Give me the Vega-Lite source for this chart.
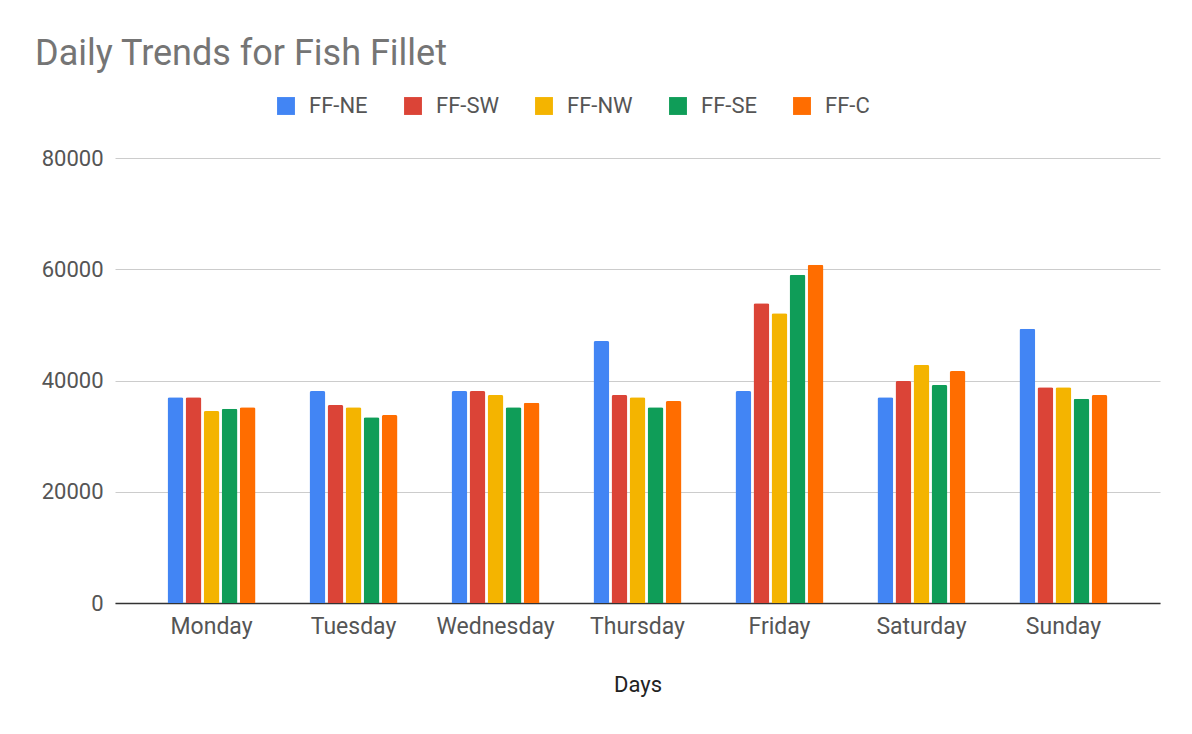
{
  "$schema": "https://vega.github.io/schema/vega-lite/v6.json",
  "width": 1045,
  "height": 445,
  "autosize": {"type": "none"},
  "padding": {"left": 115, "top": 158, "right": 32, "bottom": 131},
  "background": "white",
  "title": {
    "text": "Daily Trends for Fish Fillet",
    "anchor": "start",
    "frame": "group",
    "dx": -80,
    "offset": 22,
    "fontSize": 36,
    "font": "Roboto",
    "fontWeight": "normal",
    "color": "#757575"
  },
  "config": {
    "view": {"stroke": null},
    "font": "Roboto"
  },
  "data": {
    "values": [
      {"day": "Monday", "region": "FF-NE", "value": 37000},
      {"day": "Monday", "region": "FF-SW", "value": 37000},
      {"day": "Monday", "region": "FF-NW", "value": 34500},
      {"day": "Monday", "region": "FF-SE", "value": 34900},
      {"day": "Monday", "region": "FF-C", "value": 35200},
      {"day": "Tuesday", "region": "FF-NE", "value": 38100},
      {"day": "Tuesday", "region": "FF-SW", "value": 35600},
      {"day": "Tuesday", "region": "FF-NW", "value": 35200},
      {"day": "Tuesday", "region": "FF-SE", "value": 33400},
      {"day": "Tuesday", "region": "FF-C", "value": 33800},
      {"day": "Wednesday", "region": "FF-NE", "value": 38100},
      {"day": "Wednesday", "region": "FF-SW", "value": 38100},
      {"day": "Wednesday", "region": "FF-NW", "value": 37400},
      {"day": "Wednesday", "region": "FF-SE", "value": 35200},
      {"day": "Wednesday", "region": "FF-C", "value": 36000},
      {"day": "Thursday", "region": "FF-NE", "value": 47100},
      {"day": "Thursday", "region": "FF-SW", "value": 37400},
      {"day": "Thursday", "region": "FF-NW", "value": 37000},
      {"day": "Thursday", "region": "FF-SE", "value": 35200},
      {"day": "Thursday", "region": "FF-C", "value": 36300},
      {"day": "Friday", "region": "FF-NE", "value": 38100},
      {"day": "Friday", "region": "FF-SW", "value": 53900},
      {"day": "Friday", "region": "FF-NW", "value": 52100},
      {"day": "Friday", "region": "FF-SE", "value": 59000},
      {"day": "Friday", "region": "FF-C", "value": 60800},
      {"day": "Saturday", "region": "FF-NE", "value": 37000},
      {"day": "Saturday", "region": "FF-SW", "value": 39900},
      {"day": "Saturday", "region": "FF-NW", "value": 42800},
      {"day": "Saturday", "region": "FF-SE", "value": 39200},
      {"day": "Saturday", "region": "FF-C", "value": 41700},
      {"day": "Sunday", "region": "FF-NE", "value": 49300},
      {"day": "Sunday", "region": "FF-SW", "value": 38800},
      {"day": "Sunday", "region": "FF-NW", "value": 38800},
      {"day": "Sunday", "region": "FF-SE", "value": 36700},
      {"day": "Sunday", "region": "FF-C", "value": 37400}
    ]
  },
  "mark": {"type": "bar", "cornerRadiusTopLeft": 2, "cornerRadiusTopRight": 2},
  "encoding": {
    "x": {
      "field": "day", "type": "nominal", "sort": null,
      "scale": {"paddingInner": 0.38, "paddingOuter": 0.37},
      "axis": {
        "title": "Days", "titleFontSize": 22, "titleFontWeight": "normal", "titleColor": "#222222",
        "titlePadding": 36, "labelAngle": 0, "labelFontSize": 23, "labelColor": "#555555",
        "labelPadding": 12, "ticks": false, "domainColor": "#333333", "domainWidth": 1.5
      }
    },
    "xOffset": {
      "field": "region", "type": "nominal", "sort": ["FF-NE", "FF-SW", "FF-NW", "FF-SE", "FF-C"],
      "scale": {"paddingInner": 0.12}
    },
    "y": {
      "field": "value", "type": "quantitative",
      "scale": {"domain": [0, 80000]},
      "axis": {
        "title": null, "values": [0, 20000, 40000, 60000, 80000],
        "format": "d", "labelFontSize": 22, "labelColor": "#555555", "labelPadding": 12,
        "ticks": false, "domain": false, "gridColor": "#cccccc"
      }
    },
    "color": {
      "field": "region", "type": "nominal", "sort": ["FF-NE", "FF-SW", "FF-NW", "FF-SE", "FF-C"],
      "scale": {"domain": ["FF-NE", "FF-SW", "FF-NW", "FF-SE", "FF-C"], "range": ["#4285f4", "#db4437", "#f4b400", "#0f9d58", "#ff6d00"]},
      "legend": {
        "title": null, "orient": "none", "direction": "horizontal",
        "legendX": 160, "legendY": -63, "symbolType": "square", "symbolSize": 320,
        "symbolStrokeWidth": 0, "labelFontSize": 22, "labelColor": "#555555",
        "columnPadding": 34, "labelOffset": 12
      }
    }
  }
}
